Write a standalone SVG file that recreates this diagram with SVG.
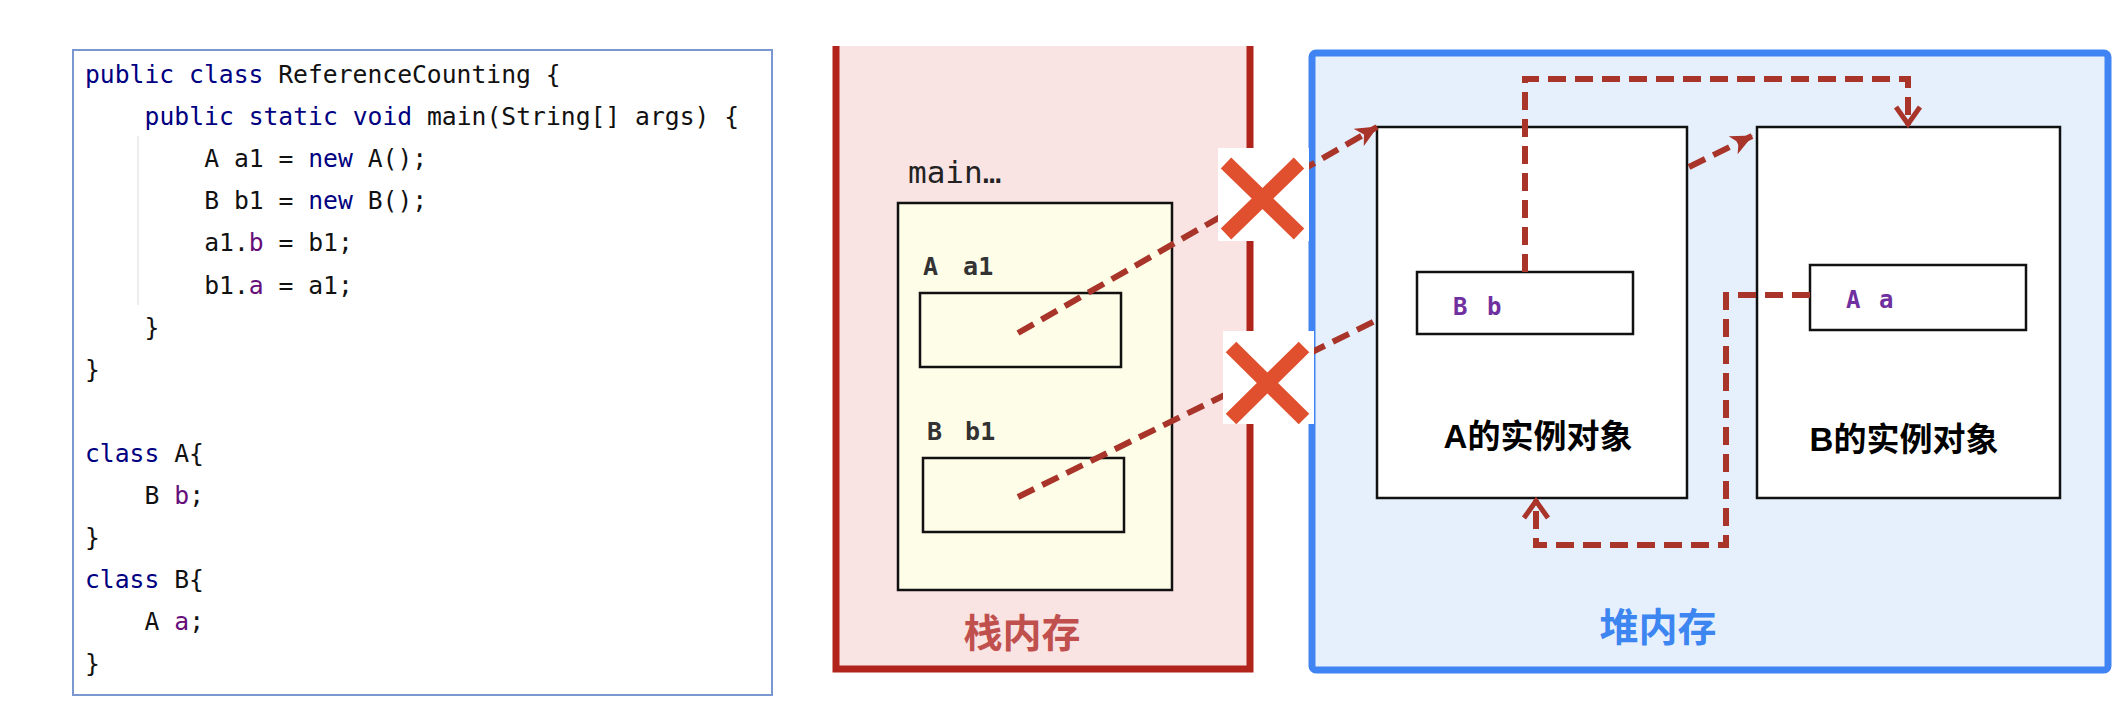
<svg xmlns="http://www.w3.org/2000/svg" width="2124" height="710" viewBox="0 0 2124 710">
<defs>
<style>
.code{font-family:"DejaVu Sans Mono","Liberation Mono",monospace;font-size:24.7px;fill:#111}
.kw{fill:#000080}
.fld{fill:#660E7A}
.box{fill:#fff;stroke:#111;stroke-width:2.5}
.ybox{fill:#FEFDE7;stroke:#111;stroke-width:2.5}
.var{font-family:"DejaVu Sans Mono","Liberation Mono",monospace;font-size:25px;font-weight:bold;fill:#333}
.fieldtxt{font-family:"DejaVu Sans Mono","Liberation Mono",monospace;font-size:24px;font-weight:bold;fill:#7030A0}
.objlbl{font-family:"Liberation Sans","Noto Sans CJK SC",sans-serif;font-size:33px;font-weight:bold;fill:#000;text-anchor:middle}
.ref{fill:none;stroke:#A8342A;stroke-width:6;stroke-dasharray:18 9}
.xm{stroke:#E0502F;stroke-width:15}
</style>
<marker id="solid" markerUnits="userSpaceOnUse" viewBox="0 0 22 20" markerWidth="22" markerHeight="20" refX="21" refY="10" orient="auto">
<path d="M0,0 L22,10 L0,20 L6,10 Z" fill="#A8342A"/>
</marker>
<marker id="open" markerUnits="userSpaceOnUse" viewBox="0 0 24 30" markerWidth="24" markerHeight="30" refX="21" refY="15" orient="auto">
<path d="M3,3 L20,15 L3,27" fill="none" stroke="#A8342A" stroke-width="5"/>
</marker>
</defs>
<rect width="2124" height="710" fill="#fff"/>

<g id="code-panel">
<rect x="73" y="50" width="699" height="645" fill="#fff" stroke="#7B97CF" stroke-width="2"/>
<line x1="138" y1="136" x2="138" y2="305" stroke="#E6E6E6" stroke-width="1.5"/>
<text class="code" x="85" y="83"><tspan class="kw">public class</tspan> ReferenceCounting {</text>
<text class="code" x="144.6" y="125.1"><tspan class="kw">public static void</tspan> main(String[] args) {</text>
<text class="code" x="204.2" y="167.2">A a1 = <tspan class="kw">new</tspan> A();</text>
<text class="code" x="204.2" y="209.3">B b1 = <tspan class="kw">new</tspan> B();</text>
<text class="code" x="204.2" y="251.4">a1.<tspan class="fld">b</tspan> = b1;</text>
<text class="code" x="204.2" y="293.5">b1.<tspan class="fld">a</tspan> = a1;</text>
<text class="code" x="144.6" y="335.6">}</text>
<text class="code" x="85" y="377.7">}</text>
<text class="code" x="85" y="461.9"><tspan class="kw">class</tspan> A{</text>
<text class="code" x="144.6" y="504">B <tspan class="fld">b</tspan>;</text>
<text class="code" x="85" y="546.1">}</text>
<text class="code" x="85" y="588.2"><tspan class="kw">class</tspan> B{</text>
<text class="code" x="144.6" y="630.3">A <tspan class="fld">a</tspan>;</text>
<text class="code" x="85" y="672.4">}</text>
</g>

<g id="stack">
<rect x="836" y="46" width="414" height="623" fill="#FAE3E3"/>
<path d="M836,46 V669 H1250 V46" fill="none" stroke="#B0241B" stroke-width="7"/>
<text x="1022" y="647" font-family="'Noto Sans CJK SC',sans-serif" font-size="39" font-weight="bold" fill="#C0504D" text-anchor="middle">栈内存</text>
</g>

<g id="main-frame">
<rect class="ybox" x="898" y="203" width="274" height="387"/>
<text x="908" y="183" font-family="'DejaVu Sans Mono','Liberation Mono',monospace" font-size="31" fill="#222">main…</text>
</g>

<g id="var-a1">
<text class="var" x="923" y="275" word-spacing="10">A a1</text>
<rect class="ybox" x="920" y="293" width="201" height="74"/>
</g>

<g id="var-b1">
<text class="var" x="927" y="440" word-spacing="8">B b1</text>
<rect class="ybox" x="923" y="458" width="201" height="74"/>
</g>

<g id="heap">
<rect x="1312" y="53" width="796" height="617" rx="4" fill="#E6F0FD" stroke="#3F84F2" stroke-width="7"/>
<text x="1658" y="641" font-family="'Noto Sans CJK SC',sans-serif" font-size="39" font-weight="bold" fill="#3D85F0" text-anchor="middle">堆内存</text>
</g>

<g id="obj-A">
<rect class="box" x="1377" y="127" width="310" height="371"/>
<text class="objlbl" x="1538" y="448">A的实例对象</text>
</g>

<g id="field-b">
<rect class="box" x="1417" y="272" width="216" height="62"/>
<text class="fieldtxt" x="1453" y="315" word-spacing="5">B b</text>
</g>

<g id="obj-B">
<rect class="box" x="1757" y="127" width="303" height="371"/>
<text class="objlbl" x="1904" y="451">B的实例对象</text>
</g>

<g id="field-a">
<rect class="box" x="1810" y="265" width="216" height="65"/>
<text class="fieldtxt" x="1846" y="308" word-spacing="4">A a</text>
</g>

<g id="connectors">
<path class="ref" d="M1018,333 L1377,127" marker-end="url(#solid)"/>
<path class="ref" d="M1018,497 L1377,320 M1689,167 L1752,136" marker-end="url(#solid)"/>
<path class="ref" d="M1525,272 V79 H1908 V125" marker-end="url(#open)"/>
<path class="ref" d="M1810,295 H1726 V545 H1536 V500" marker-end="url(#open)"/>
</g>

<g id="x-marks">
<rect x="1218" y="148" width="91" height="93" fill="#fff"/>
<path class="xm" d="M1226,163 L1299,234 M1299,163 L1226,234"/>
<rect x="1223" y="331" width="91" height="93" fill="#fff"/>
<path class="xm" d="M1231,347 L1304,419 M1304,347 L1231,419"/>
</g>
</svg>
